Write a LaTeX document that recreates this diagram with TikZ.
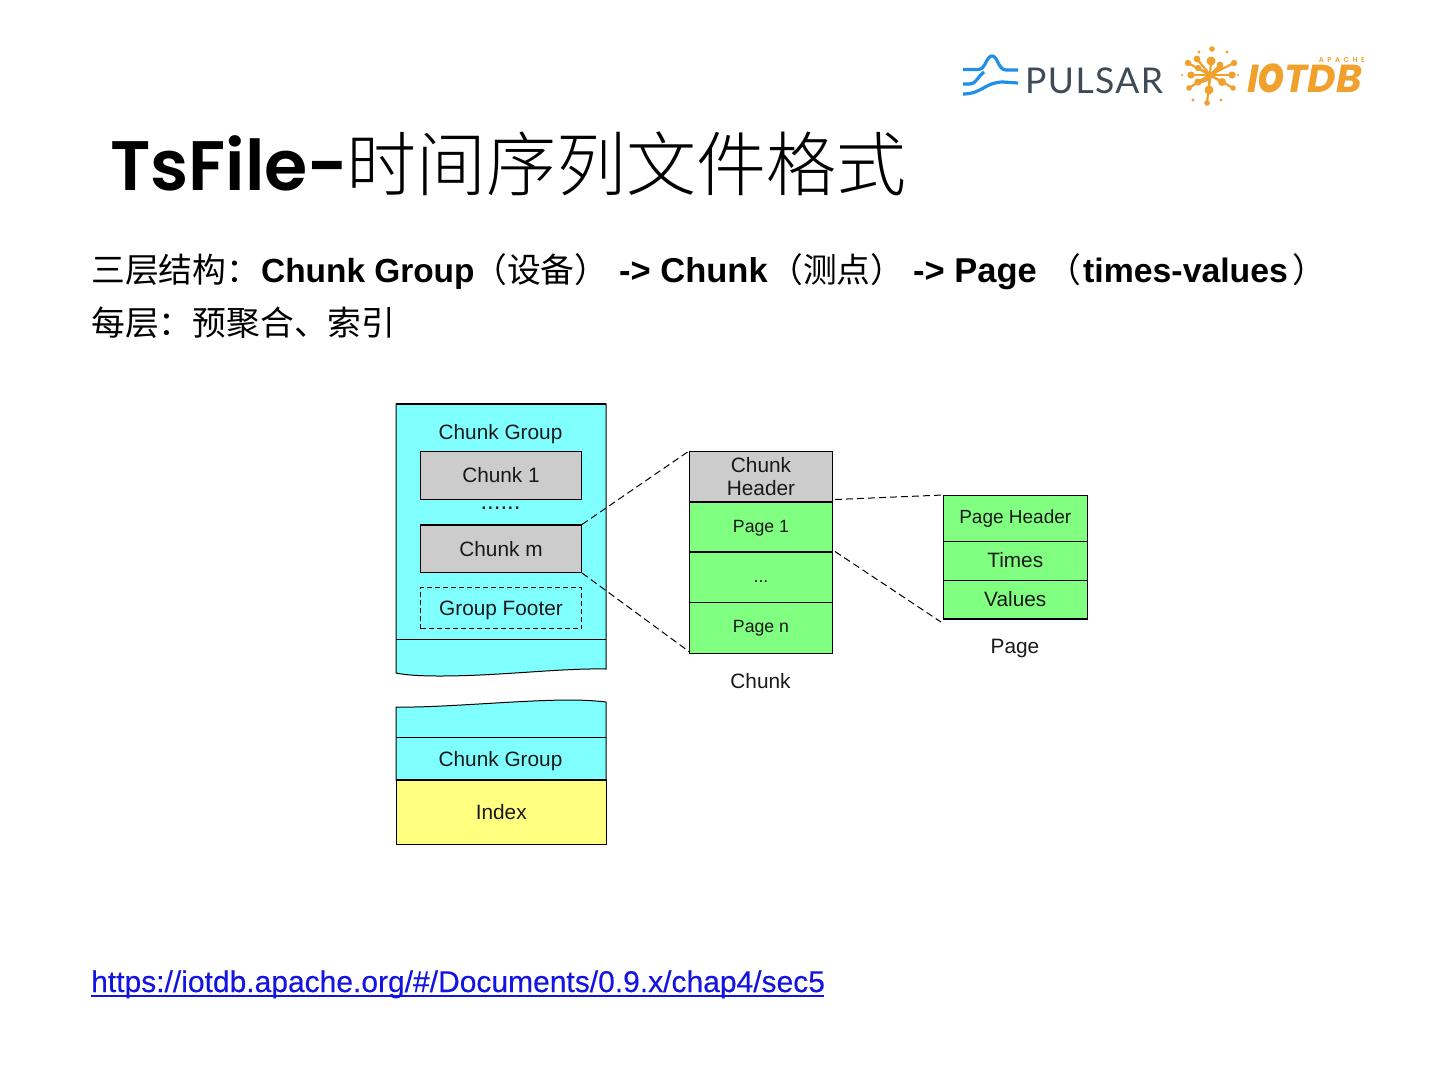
\documentclass[tikz,border=0pt]{standalone}
\usepackage{fontspec}
\setmainfont{Liberation Sans}
\newfontfamily\cjk[UprightFont=* Light,BoldFont=* Light]{Noto Sans CJK SC}
\newfontfamily\cjkb{Noto Sans CJK SC}
\newfontfamily\titlefont[UprightFont=* SemiBold,BoldFont=* SemiBold]{Poppins}
\newfontfamily\iotfont[UprightFont=* Bold Italic]{Poppins}
\newfontfamily\logofont[LetterSpace=4]{Lato}
\newfontfamily\urlfont[FakeBold=0.25]{Liberation Sans}
\newcommand{\fs}[1]{\fontsize{#1}{#1}\selectfont}
\definecolor{cy}{HTML}{80FFFF}
\definecolor{gy}{HTML}{CCCCCC}
\definecolor{gn}{HTML}{80FF80}
\definecolor{ye}{HTML}{FFFF80}
\definecolor{pblue}{HTML}{1E90E8}
\definecolor{pdark}{HTML}{3E4A56}
\definecolor{iot}{HTML}{F0A02C}
\definecolor{lnk}{HTML}{1414E0}
\tikzset{
  cell/.style={draw=black,line width=1pt,anchor=north west,inner sep=0pt,align=center,font=\fs{20.8},text=black!90},
  lab/.style={inner sep=0pt,align=center,font=\fs{20.8},text=black!90},
  zoomline/.style={draw=black,line width=1pt,dash pattern=on 7pt off 4pt},
  ln/.style={anchor=base west,inner sep=0pt},
  hz/.style={ln,font=\cjkb\fs{33.8}},
  bd/.style={ln,font=\bfseries\fs{#1}},
}
\begin{document}
\begin{tikzpicture}[x=1pt,y=-1pt]
\useasboundingbox (0,0) rectangle (1440,1080);
\fill[white] (0,0) rectangle (1440,1080);

% title and text
\node[ln] (title) at (110,190) {\titlefont\fs{70}TsFile-\hspace{-2pt}\cjk\fs{70}时间序列文件格式};
\node[hz] (l1a) at (91,282) {三层结构：};
\node[bd=33.4] (l1b) at (261,282) {Chunk Group};
\node[hz] (l1c) at (473,282) {（设备）};
\node[bd=34.5] (l1d) at (619,282) {-> Chunk};
\node[hz] (l1e) at (769,282) {（测点）};
\node[bd=34.5] (l1f) at (913,282) {-> Page};
\node[hz] (l1g) at (1047,282) {（};
\node[bd=33.8] (l1h) at (1083,282) {times-values};
\node[hz] (l1i) at (1292,282) {）};
\node[hz] (line2) at (91,335) {每层：预聚合、索引};
\node[ln,text=lnk] (url) at (91,992) {\urlfont\fs{30}https://iotdb.apache.org/\#/Documents/0.9.x/chap4/sec5};
\draw[lnk,line width=2pt] (url.base west) ++(0,3.5) -- ++(733,0);

% Pulsar logo
\draw[pblue,line width=3.2pt,line join=round] (963,69.5) -- (978,69.5) .. controls (986,69.5) and (986,56) .. (992,56) .. controls (998,56) and (998,70) .. (1006,70) -- (1018,70);
\draw[pblue,line width=3.2pt] (963,84) -- (970,84) .. controls (976,84) and (978,76) .. (984,72);
\draw[pblue,line width=3.2pt] (963,94) .. controls (982,94) and (985,82) .. (1003,82) -- (1018,83);
\node[ln,text=pdark] (pulsar) at (1025,93) {\logofont\fs{35.5}PULSAR};

% IoTDB logo
\coordinate (suncentre) at (1210,75);
\foreach \x/\y/\r in {1211/61/4.5,1197/59/3.4,1220/65/3.4,1188/63/3.2,1234/63/3.2,1198/68/3.2,1191/75/3.6,1232/75/3.6,1189/88/2.8,1233/88/2.8,1198/82/3.6,1222/82/4,1209/90/4.5,1207/103/2.8}{
  \draw[iot,line width=2.2pt] (suncentre) -- (\x,\y);
  \fill[iot] (\x,\y) circle[radius=\r];
}
\draw[iot,line width=3.6pt] (1198,82) .. controls (1212,80) and (1214,72) .. (1222,65);
\foreach \x/\y/\r in {1212/49/2.8,1199/52/1.6,1227/52/1.6,1182/75/1.2,1238/75/1.2,1193/100/1.6,1221/100/1.6}{
  \fill[iot] (\x,\y) circle[radius=\r];
}
\node[ln,text=iot] (iotdb) at (1247,92) {\iotfont\fs{39}I\scalebox{1.05}[1.3]{o}TDB};
\node[anchor=base east,inner sep=0pt,text=iot] (apache) at (1365,62) {\titlefont\fs{7}A\,\,\,P\,\,\,A\,\,\,C\,\,\,H\,\,\,E};

% Chunk group body
\path[fill=cy,draw=black,line width=1pt] (396,404) -- (606,404) -- (606,669) .. controls (560,668) and (500,676) .. (440,676) .. controls (420,676) and (405,675) .. (396,673) -- cycle;
\draw[line width=2pt] (396,404) -- (606,404);
\draw[line width=1pt] (396,639) -- (606,639);
\node[lab] (cgtitle) at (500.5,434) {Chunk Group};
\node[cell,fill=gy,minimum width=161pt,minimum height=48pt] (chunk1) at (420,451) {Chunk 1};
\node[lab,font=\fs{24}] (dots) at (500.5,508) {......};
\node[cell,fill=gy,minimum width=161pt,minimum height=47.5pt] (chunkm) at (420,524.5) {Chunk m};
\draw[line width=1.6pt] (chunkm.north west) -- (chunkm.north east);
\node[cell,dash pattern=on 5pt off 3pt,minimum width=161pt,minimum height=41.5pt] (footer) at (420,586.5) {\rule{0pt}{19pt}Group Footer};

% lower block
\path[fill=cy,draw=black,line width=1pt] (396,707) .. controls (440,708) and (520,700) .. (570,700) .. controls (585,700) and (598,701) .. (606,702) -- (606,780) -- (396,780) -- cycle;
\draw[line width=1pt] (396,737.5) -- (606,737.5);
\node[lab] (cg2) at (500.5,761) {Chunk Group};
\node[cell,fill=ye,minimum width=209.5pt,minimum height=64pt] (index) at (396,780) {Index};
\draw[line width=2.4pt] (index.north west) -- (index.north east);

% Chunk
\node[cell,fill=gy,minimum width=143pt,minimum height=49.5pt] (chead) at (689,451) {Chunk\\[2.2pt]Header};
\node[cell,fill=gn,minimum width=143pt,minimum height=49.5pt,font=\fs{17.7}] (p1) at (689,501) {\rule{0pt}{17pt}Page 1};
\node[cell,fill=gn,minimum width=143pt,minimum height=50.5pt,font=\fs{17.7}] (pd) at (689,551) {\rule{0pt}{12pt}...};
\node[cell,fill=gn,minimum width=143pt,minimum height=50.5pt,font=\fs{17.7}] (pn) at (689,602) {Page n};
\draw[line width=2pt] (chead.south west) -- (chead.south east);
\draw[line width=2pt] (p1.south west) -- (p1.south east);
\node[lab] (chunklab) at (760.5,681) {Chunk};

% Page
\node[cell,fill=gn,minimum width=143.5pt,minimum height=45.5pt,font=\fs{19}] (ph) at (943,495) {Page Header};
\node[cell,fill=gn,minimum width=143.5pt,minimum height=38.5pt] (times) at (943,541) {\raisebox{1pt}{Times}};
\node[cell,fill=gn,minimum width=143.5pt,minimum height=38pt] (vals) at (943,580) {\raisebox{1pt}{Values}};
\draw[line width=2pt] (vals.south west) -- (vals.south east);
\node[lab] (pagelab) at (1015,648) {Page};

% zoom connectors
\draw[zoomline] (chunkm.north east) -- (chead.north west);
\draw[zoomline] (chunkm.south east) -- ([yshift=2pt]pn.south west);
\draw[zoomline] ([xshift=2pt,yshift=2pt]chead.south east) -- (ph.north west);
\draw[zoomline] ([xshift=2pt]p1.south east) -- ([xshift=-2pt,yshift=-3pt]vals.south west);
\end{tikzpicture}
\end{document}
